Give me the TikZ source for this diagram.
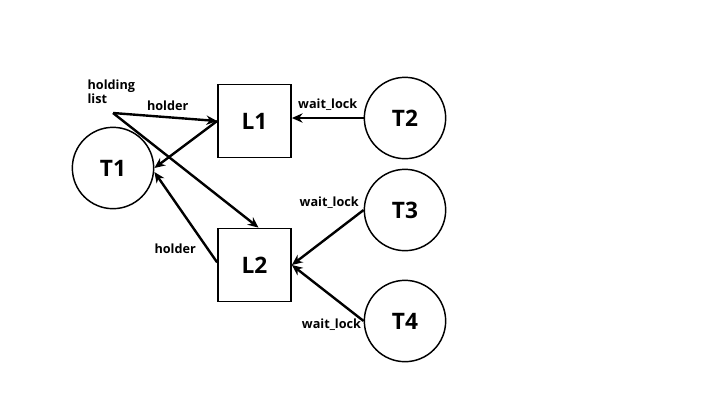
\documentclass[tikz,border=0pt]{standalone}
\usepackage{fontspec}
\setmainfont{Open Sans}
\usetikzlibrary{arrows.meta,positioning}

\tikzset{
  txn/.style={draw,circle,line width=1.1pt,minimum size=61pt,inner sep=0pt,font=\fontsize{17}{19}\selectfont\bfseries},
  lockbox/.style={draw,rectangle,line width=1.1pt,minimum width=55pt,minimum height=55pt,inner sep=0pt,font=\fontsize{17}{19}\selectfont\bfseries},
  lbl/.style={font=\fontsize{9.5}{10}\selectfont\bfseries,inner sep=1pt},
  link/.style={->,line width=1.8pt}
}

\begin{document}
\begin{tikzpicture}[x=0.75pt,y=-0.75pt,>={Stealth[length=8pt,width=7pt]}]
  \useasboundingbox (0,0) rectangle (720,405);
  % nodes
  \node[txn] (T1) at (113,168) {T1};
  \node[lockbox] (L1) at (254.5,121) {L1};
  \node[lockbox] (L2) at (254.5,265) {L2};
  \node[txn] (T2) at (405,118) {T2};
  \node[txn] (T3) at (405,210) {T3};
  \node[txn] (T4) at (405,321) {T4};
  \node[lbl,align=left,anchor=north west] (hl) at (86,78) {holding\\[1pt]list};
  \coordinate (hold) at (113,113);
  % holding list
  \draw[link] (hold) -- (L1.west) node[lbl,midway,above=3pt,xshift=2pt] {holder};
  \draw[link] (hold) -- ([xshift=3pt]L2.north);
  % holders
  \draw[link] (L1.west) -- (T1.east);
  \draw[link] ([yshift=2pt]L2.west) -- ([yshift=-3pt]T1.east) node[lbl,pos=0.15,left=7pt] {holder};
  % waiters
  \draw[link] (T2.west) -- (T2.west -| L1.east) node[lbl,midway,above=4pt] {wait\_lock};
  \draw[link] (T3.west) -- (L2.east) node[lbl,pos=0.05,above left=1pt and -1pt] {wait\_lock};
  \draw[link] (T4.west) -- (L2.east) node[lbl,pos=0.0,left=0pt,yshift=-3pt] {wait\_lock};
\end{tikzpicture}
\end{document}
